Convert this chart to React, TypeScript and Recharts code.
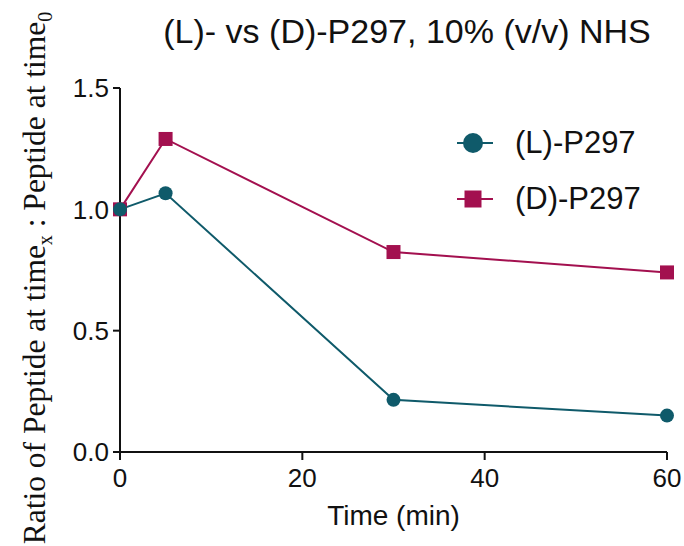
import React from "react";
import { LineChart, Line, XAxis, YAxis } from "recharts";

const times = [0, 5, 30, 60];
const lSeries = [1.0, 1.066, 0.215, 0.15];
const dSeries = [1.0, 1.29, 0.824, 0.74];
const yTicks = [0, 0.5, 1.0, 1.5];
const xTicks = [0, 20, 40, 60];
const seriesNames = ["(L)-P297", "(D)-P297"];

const data = times.map((t, i) => ({ time: t, l: lSeries[i], d: dSeries[i] }));

const TEAL = "#0f5a6a";
const MAGENTA = "#a3104f";
const SANS = "'Liberation Sans', Arial, sans-serif";
const SERIF = "'Liberation Serif', 'Times New Roman', serif";

const SquareDot = (props: any) => {
  const { cx, cy } = props;
  if (cx == null || cy == null) return null;
  return <rect x={cx - 7} y={cy - 7} width={14} height={14} fill={MAGENTA} />;
};

const CircleDot = (props: any) => {
  const { cx, cy } = props;
  if (cx == null || cy == null) return null;
  return <circle cx={cx} cy={cy} r={7} fill={TEAL} />;
};

const LegendBox = () => (
  <div
    style={{
      position: "absolute",
      left: 456,
      top: 115,
      fontFamily: SANS,
      fontSize: 31,
      color: "#111",
    }}
  >
    {[
      { name: seriesNames[0], color: TEAL, shape: "circle" },
      { name: seriesNames[1], color: MAGENTA, shape: "square" },
    ].map((e) => (
      <div key={e.name} style={{ display: "flex", alignItems: "center", height: 56 }}>
        <svg width={38} height={24} style={{ marginRight: 21 }}>
          <line x1={1} y1={12} x2={37} y2={12} stroke={e.color} strokeWidth={2} />
          {e.shape === "circle" ? (
            <circle cx={17} cy={12} r={10} fill={e.color} />
          ) : (
            <rect x={8.5} y={3.5} width={17} height={17} fill={e.color} />
          )}
        </svg>
        <span>{e.name}</span>
      </div>
    ))}
  </div>
);

export default function App() {
  return (
    <div style={{ position: "absolute", left: 0, top: 0, width: 684, height: 546, background: "#fff" }}>
      <LineChart
        width={684}
        height={546}
        data={data}
        margin={{ top: 88, right: 17, left: 60, bottom: 54 }}
      >
        <XAxis
          dataKey="time"
          type="number"
          domain={[0, 60]}
          ticks={xTicks}
          height={40}
          axisLine={{ stroke: "#111", strokeWidth: 2 }}
          tickLine={{ stroke: "#111", strokeWidth: 2 }}
          tickSize={8}
          tickMargin={9}
          tick={{ fill: "#111", fontSize: 26, fontFamily: SANS }}
        />
        <YAxis
          type="number"
          domain={[0, 1.5]}
          ticks={yTicks}
          width={60}
          axisLine={{ stroke: "#111", strokeWidth: 2 }}
          tickLine={{ stroke: "#111", strokeWidth: 2 }}
          tickSize={7}
          tickMargin={4}
          tickFormatter={(v: number) => v.toFixed(1)}
          tick={{ fill: "#111", fontSize: 26, fontFamily: SANS }}
        />
        <Line
          dataKey="d"
          stroke={MAGENTA}
          strokeWidth={2}
          dot={<SquareDot />}
          activeDot={false}
          isAnimationActive={false}
        />
        <Line
          dataKey="l"
          stroke={TEAL}
          strokeWidth={2}
          dot={<CircleDot />}
          activeDot={false}
          isAnimationActive={false}
        />
      </LineChart>
      <LegendBox />
      <div
        style={{
          position: "absolute",
          left: 150,
          width: 514,
          top: 12,
          textAlign: "center",
          fontFamily: SANS,
          fontSize: 34,
          color: "#111",
          whiteSpace: "nowrap",
        }}
      >
        (L)- vs (D)-P297, 10% (v/v) NHS
      </div>
      <div
        style={{
          position: "absolute",
          left: 120,
          width: 547,
          top: 500,
          textAlign: "center",
          fontFamily: SANS,
          fontSize: 28,
          color: "#111",
        }}
      >
        Time (min)
      </div>
      <svg
        width={80}
        height={546}
        style={{ position: "absolute", left: 0, top: 0, pointerEvents: "none" }}
      >
        <text
          transform="translate(45, 278) rotate(-90)"
          textAnchor="middle"
          fontFamily={SERIF}
          fontSize={31.5}
          fill="#111"
        >
          Ratio of Peptide at time
          <tspan fontSize={20} dy={7}>x</tspan>
          <tspan dy={-7}> : Peptide at time</tspan>
          <tspan fontSize={20} dy={7}>0</tspan>
        </text>
      </svg>
    </div>
  );
}
